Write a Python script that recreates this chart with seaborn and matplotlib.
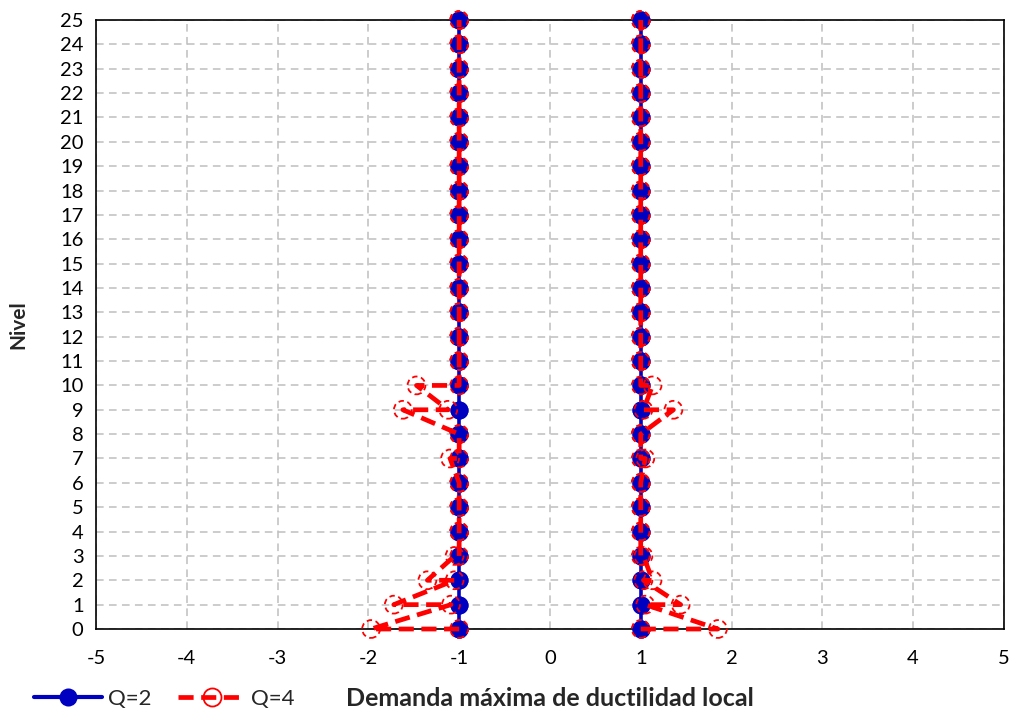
import numpy as np
import pandas as pd
import matplotlib
matplotlib.use("Agg")
import matplotlib.pyplot as plt
import seaborn as sns
from matplotlib.lines import Line2D

# niveles (dos puntos por nivel, en el orden de la serie)
levels = list(range(26))

# Q=2: demanda en ambos sentidos
q2_left_a = [-1.0] * 26
q2_left_b = [-1.0] * 26
q2_right_a = [1.0] * 26
q2_right_b = [1.0] * 26

# Q=4: primer y segundo valor de cada nivel
q4_left_a = [-1.0, -1.09, -1.05, -1.05, -1.0, -1.0, -1.0, -1.1, -1.0, -1.62, -1.47] + [-1.0] * 15
q4_left_b = [-1.97, -1.72, -1.35, -1.0, -1.0, -1.0, -1.0, -1.0, -1.0, -1.12, -1.0] + [-1.0] * 15
q4_right_a = [1.0, 1.05, 1.03, 1.03, 1.0, 1.0, 1.0, 1.05, 1.0, 1.36, 1.13] + [1.0] * 15
q4_right_b = [1.85, 1.44, 1.13, 1.0, 1.0, 1.0, 1.0, 1.0, 1.0, 1.03, 1.0] + [1.0] * 15

BLUE = "#0000C0"
RED = "#FF0000"


def path(xa, xb):
    xs, ys = [], []
    for lv, a, b in zip(levels, xa, xb):
        xs += [a, b]
        ys += [lv, lv]
    return pd.DataFrame({"x": xs, "y": ys})


sns.set_theme(style="white")
plt.rcParams["font.family"] = ["Lato", "DejaVu Sans"]
plt.rcParams["axes.unicode_minus"] = False

fig, ax = plt.subplots(figsize=(10.14, 7.16), dpi=100)
fig.subplots_adjust(left=0.0947, right=0.990, top=0.972, bottom=0.1215)

# Q=2
for xa, xb in [(q2_left_a, q2_left_b), (q2_right_a, q2_right_b)]:
    df = path(xa, xb)
    sns.lineplot(data=df, x="x", y="y", sort=False, estimator=None, color=BLUE,
                 linewidth=2.6, marker="o", markersize=13, markeredgewidth=0,
                 ax=ax, clip_on=False, zorder=3)

# Q=4
for xa, xb in [(q4_left_a, q4_left_b), (q4_right_a, q4_right_b)]:
    df = path(xa, xb)
    sns.lineplot(data=df, x="x", y="y", sort=False, estimator=None, color=RED,
                 linewidth=3.4, linestyle=(0, (3.2, 1.6)), ax=ax, clip_on=False, zorder=4)
    sns.scatterplot(data=df, x="x", y="y", s=165, facecolors="none", edgecolor=RED,
                    linewidth=1.3, linestyle=(0, (3, 2)), ax=ax, clip_on=False, zorder=5)

ax.set_xlim(-5, 5)
ax.set_ylim(0, 25)
ax.set_xticks(range(-5, 6))
ax.set_yticks(levels)
ax.grid(True, color="#BFBFBF", linestyle=(0, (5, 3.5)), linewidth=1.1)
ax.set_axisbelow(True)
for s in ax.spines.values():
    s.set_color("black")
    s.set_linewidth(1.2)

ax.tick_params(axis="both", length=0, labelsize=14.5, colors="black")
ax.tick_params(axis="x", pad=15)
ax.tick_params(axis="y", pad=9)

ax.set_xlabel("Demanda máxima de ductilidad local", fontsize=18, fontweight="bold")
ax.set_ylabel("Nivel", fontsize=15, fontweight="bold")
ax.xaxis.set_label_coords(0.5, -0.096)
ax.yaxis.set_label_coords(-0.075, 0.5)

handles = [
    Line2D([], [], color=BLUE, linewidth=3, marker="o", markersize=13, markeredgewidth=0),
    Line2D([], [], color=RED, linewidth=3.4, linestyle=(0, (3.2, 1.6)), marker="o",
           markersize=13, markerfacecolor="none", markeredgewidth=1.3),
]
fig.legend(handles, ["Q=2", "Q=4"], loc="center left", bbox_to_anchor=(0.034, 1 - 699 / 716),
           ncol=2, frameon=False, fontsize=16, handlelength=3.05, handletextpad=0.25,
           columnspacing=1.2, borderaxespad=0, borderpad=0)

fig.savefig("out.png", dpi=100)
